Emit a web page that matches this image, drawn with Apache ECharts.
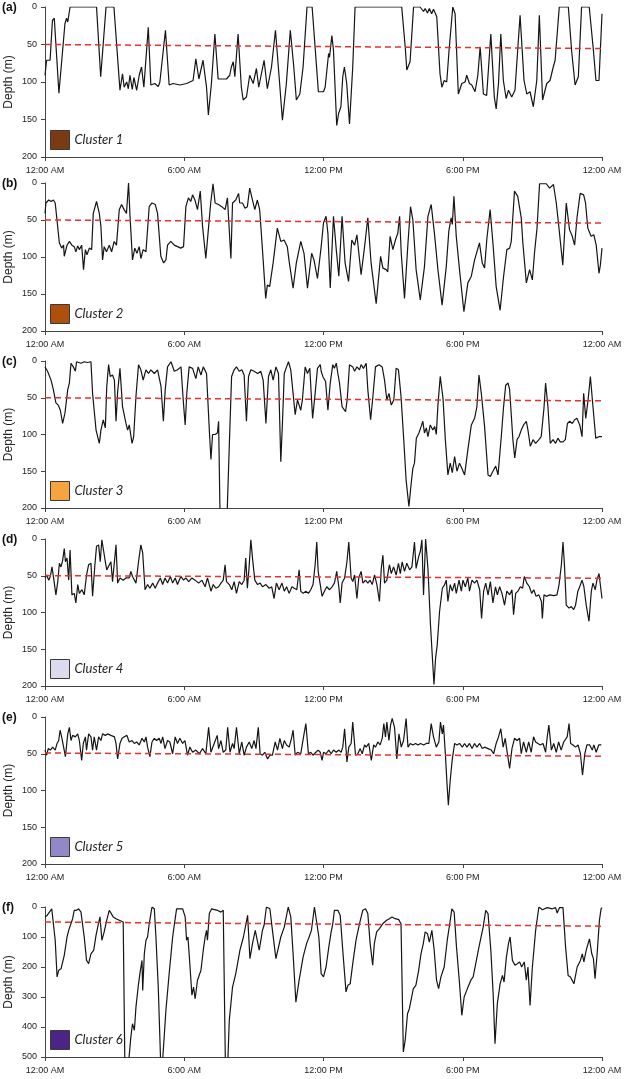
<!DOCTYPE html>
<html>
<head>
<meta charset="utf-8">
<script src="https://cdn.jsdelivr.net/npm/echarts@6/dist/echarts.min.js"></script>
<style>
  html, body { margin: 0; padding: 0; background: #fff; }
  #chart { width: 625px; height: 1079px; }
</style>
</head>
<body>
<div id="chart"></div>
<script>
// dive traces: [hour since midnight, depth (m)]
const cluster1 = [[0,91],[0.07,71],[0.22,71],[0.32,18],[0.40,15],[0.60,115],[0.86,22],[0.93,15],[0.98,20],[1.08,0],[2.22,0],[2.40,93],[2.44,95],[2.63,0],[2.97,0],[3.23,111],[3.34,89],[3.41,107],[3.52,100],[3.59,109],[3.66,91],[3.76,110],[3.83,94],[3.95,111],[4.06,91],[4.16,80],[4.26,107],[4.45,27],[4.56,104],[4.73,102],[4.88,106],[4.95,100],[5.19,31],[5.35,104],[5.52,102],[5.81,104],[6.10,102],[6.38,98],[6.50,69],[6.63,96],[6.81,71],[6.96,107],[7.04,144],[7.17,102],[7.32,36],[7.46,96],[7.82,96],[7.96,91],[8.03,80],[8.11,73],[8.18,93],[8.32,36],[8.46,107],[8.54,124],[8.68,120],[8.82,91],[8.97,102],[9.11,82],[9.21,107],[9.44,71],[9.58,109],[9.76,80],[9.93,31],[10.11,102],[10.23,151],[10.40,102],[10.57,31],[10.72,80],[10.83,124],[10.98,116],[11.12,80],[11.29,0],[11.51,0],[11.78,113],[12.00,113],[12.07,107],[12.22,62],[12.26,67],[12.36,38],[12.43,58],[12.57,158],[12.65,142],[12.75,133],[12.83,93],[12.90,80],[13.00,102],[13.12,156],[13.26,80],[13.36,0],[15.37,0],[15.52,53],[15.59,84],[15.73,73],[15.88,0],[16.16,0],[16.31,6],[16.38,2],[16.48,8],[16.56,2],[16.66,9],[16.74,3],[16.81,4],[16.88,13],[17.02,89],[17.10,107],[17.20,98],[17.31,100],[17.41,58],[17.57,0],[17.67,9],[17.81,116],[17.96,102],[18.10,100],[18.17,91],[18.29,102],[18.39,104],[18.53,113],[18.65,91],[18.75,53],[18.89,116],[19.03,118],[19.21,36],[19.36,120],[19.44,136],[19.54,102],[19.64,36],[19.75,98],[19.87,122],[19.97,111],[20.11,120],[20.25,111],[20.47,11],[20.64,98],[20.76,116],[20.90,113],[21.04,133],[21.19,98],[21.30,11],[21.44,124],[21.62,102],[21.76,98],[21.90,80],[21.98,71],[22.16,0],[22.55,0],[22.69,58],[22.84,104],[22.98,93],[23.12,0],[23.45,0],[23.63,58],[23.74,98],[23.81,96],[23.87,98],[24.00,9]];

const cluster2 = [[0,41],[0.04,27],[0.16,23],[0.26,25],[0.36,23],[0.44,27],[0.62,81],[0.72,88],[0.80,84],[0.83,99],[0.95,84],[1.05,79],[1.16,84],[1.26,86],[1.33,93],[1.41,85],[1.48,90],[1.58,84],[1.66,117],[1.74,90],[1.81,97],[1.91,88],[2.01,90],[2.08,41],[2.22,25],[2.34,41],[2.41,59],[2.48,104],[2.55,86],[2.65,93],[2.77,84],[2.87,93],[2.98,79],[3.08,84],[3.20,36],[3.30,29],[3.41,36],[3.51,41],[3.60,0],[3.66,43],[3.77,104],[3.87,88],[3.96,95],[4.06,86],[4.13,102],[4.23,90],[4.35,93],[4.49,32],[4.61,27],[4.75,29],[4.85,41],[4.99,99],[5.11,108],[5.21,104],[5.28,84],[5.42,79],[5.57,84],[5.71,86],[5.85,88],[5.97,86],[6.07,32],[6.18,20],[6.28,25],[6.36,16],[6.46,23],[6.57,36],[6.69,11],[6.79,59],[6.93,102],[7.05,59],[7.14,27],[7.24,1],[7.33,27],[7.47,29],[7.62,32],[7.76,36],[7.86,20],[8.01,102],[8.08,27],[8.22,23],[8.34,14],[8.39,27],[8.51,27],[8.62,34],[8.72,32],[8.82,7],[8.94,23],[9.04,36],[9.15,23],[9.25,36],[9.37,90],[9.51,156],[9.58,138],[9.68,140],[9.83,108],[10.01,61],[10.16,79],[10.30,77],[10.44,86],[10.52,106],[10.69,142],[10.83,108],[11.02,79],[11.16,95],[11.31,142],[11.49,95],[11.59,104],[11.74,129],[11.90,86],[12.00,54],[12.11,45],[12.19,68],[12.29,142],[12.43,45],[12.55,90],[12.66,126],[12.80,45],[12.93,108],[13.08,133],[13.22,77],[13.34,84],[13.44,70],[13.62,124],[13.77,86],[13.91,47],[14.05,108],[14.27,163],[14.46,99],[14.56,115],[14.70,117],[14.77,120],[14.87,72],[14.99,90],[15.10,77],[15.20,68],[15.28,45],[15.35,95],[15.49,156],[15.64,81],[15.75,32],[15.85,50],[15.99,117],[16.17,158],[16.35,113],[16.50,45],[16.64,29],[16.78,68],[16.93,117],[17.11,165],[17.29,113],[17.40,65],[17.50,47],[17.55,56],[17.62,18],[17.72,72],[17.86,117],[18.05,174],[18.22,135],[18.37,126],[18.51,104],[18.61,93],[18.72,81],[18.84,108],[18.94,115],[19.04,75],[19.18,36],[19.30,81],[19.44,140],[19.61,172],[19.76,126],[19.90,90],[20.02,88],[20.09,79],[20.23,11],[20.37,18],[20.52,47],[20.59,81],[20.74,135],[20.88,117],[21.00,131],[21.09,95],[21.20,61],[21.31,1],[21.60,1],[21.74,7],[21.91,2],[22.03,27],[22.14,59],[22.31,111],[22.46,27],[22.60,63],[22.72,72],[22.82,84],[22.93,45],[23.06,14],[23.21,16],[23.29,27],[23.39,61],[23.53,72],[23.65,70],[23.75,84],[23.87,122],[23.93,111],[24.00,88]];

const cluster3 = [[0,8],[0.11,14],[0.26,26],[0.36,39],[0.47,57],[0.57,60],[0.66,67],[0.76,85],[0.86,71],[0.98,39],[1.05,30],[1.12,3],[1.22,8],[1.31,14],[1.36,1],[1.55,3],[1.69,1],[1.84,2],[1.98,1],[2.05,44],[2.20,94],[2.34,112],[2.41,94],[2.51,80],[2.60,91],[2.66,35],[2.74,5],[2.81,21],[2.91,19],[2.99,26],[3.06,82],[3.13,42],[3.23,10],[3.34,62],[3.49,85],[3.56,94],[3.63,87],[3.75,112],[3.82,103],[3.92,48],[4.03,5],[4.13,12],[4.23,26],[4.35,12],[4.46,17],[4.56,12],[4.71,17],[4.85,12],[5.00,35],[5.10,82],[5.18,39],[5.28,8],[5.43,1],[5.57,14],[5.71,12],[5.86,8],[5.96,55],[6.04,87],[6.11,44],[6.21,8],[6.36,10],[6.50,24],[6.60,8],[6.72,19],[6.82,8],[6.96,17],[7.08,94],[7.15,134],[7.22,100],[7.33,100],[7.43,98],[7.48,82],[7.54,205],[7.70,250],[7.85,205],[7.94,116],[8.04,21],[8.15,12],[8.25,8],[8.37,14],[8.48,12],[8.58,19],[8.68,82],[8.77,21],[8.87,12],[9.01,14],[9.16,17],[9.30,14],[9.40,26],[9.52,85],[9.63,21],[9.73,12],[9.83,26],[9.95,8],[10.06,17],[10.16,137],[10.23,85],[10.31,17],[10.41,8],[10.49,1],[10.59,12],[10.66,10],[10.78,73],[10.88,53],[10.95,60],[11.02,67],[11.09,53],[11.21,8],[11.31,17],[11.41,10],[11.53,78],[11.64,44],[11.74,10],[11.86,5],[11.90,14],[11.97,21],[12.09,28],[12.19,67],[12.29,30],[12.40,5],[12.47,10],[12.55,3],[12.62,17],[12.69,30],[12.80,62],[12.95,69],[13.02,53],[13.12,5],[13.26,8],[13.34,14],[13.44,8],[13.55,12],[13.62,5],[13.72,10],[13.84,3],[13.91,39],[14.03,80],[14.13,48],[14.24,8],[14.39,5],[14.53,8],[14.63,26],[14.73,53],[14.82,44],[14.92,60],[15.03,53],[15.13,10],[15.23,12],[15.34,48],[15.45,103],[15.56,162],[15.68,198],[15.78,166],[15.85,146],[15.92,139],[16.00,105],[16.11,98],[16.21,89],[16.28,82],[16.35,98],[16.43,91],[16.50,103],[16.60,87],[16.71,94],[16.79,89],[16.86,100],[16.93,60],[17.03,21],[17.15,51],[17.25,107],[17.36,155],[17.46,139],[17.55,152],[17.65,130],[17.75,150],[17.86,139],[17.96,146],[18.08,155],[18.22,121],[18.37,87],[18.51,78],[18.61,62],[18.70,19],[18.80,44],[18.94,89],[19.09,155],[19.19,157],[19.30,150],[19.42,143],[19.52,155],[19.66,103],[19.76,62],[19.85,33],[19.95,30],[20.02,39],[20.16,107],[20.24,132],[20.34,107],[20.42,103],[20.52,94],[20.62,87],[20.74,82],[20.81,94],[20.91,116],[21.03,107],[21.14,112],[21.28,107],[21.38,103],[21.50,64],[21.57,30],[21.67,62],[21.77,112],[21.89,107],[22.00,112],[22.10,105],[22.20,110],[22.32,110],[22.42,107],[22.51,85],[22.61,82],[22.72,85],[22.82,80],[22.92,78],[23.04,87],[23.14,103],[23.21,44],[23.30,78],[23.40,53],[23.50,21],[23.61,62],[23.73,105],[23.86,103],[24.00,103]];

const cluster4 = [[0,53],[0.07,49],[0.16,56],[0.23,51],[0.30,38],[0.37,53],[0.47,76],[0.55,58],[0.62,33],[0.69,38],[0.76,29],[0.83,13],[0.88,31],[0.95,26],[1.02,56],[1.08,15],[1.16,76],[1.26,74],[1.33,87],[1.41,62],[1.48,74],[1.59,69],[1.69,76],[1.79,49],[1.88,35],[1.98,33],[2.05,78],[2.15,35],[2.22,10],[2.31,8],[2.38,31],[2.45,1],[2.53,17],[2.60,31],[2.66,42],[2.74,44],[2.84,31],[2.91,58],[2.99,56],[3.06,8],[3.13,60],[3.23,53],[3.37,56],[3.49,53],[3.63,53],[3.70,44],[3.77,51],[3.92,60],[4.03,31],[4.13,8],[4.21,19],[4.31,69],[4.42,62],[4.52,67],[4.64,60],[4.75,67],[4.85,60],[4.97,53],[5.07,62],[5.17,53],[5.28,60],[5.40,51],[5.50,60],[5.61,53],[5.71,62],[5.85,51],[5.97,56],[6.07,53],[6.19,58],[6.33,53],[6.47,56],[6.62,60],[6.76,56],[6.90,65],[7.00,53],[7.15,71],[7.25,62],[7.36,67],[7.48,65],[7.58,60],[7.68,56],[7.76,35],[7.82,58],[7.94,62],[8.05,69],[8.15,58],[8.25,74],[8.37,58],[8.48,62],[8.58,56],[8.65,26],[8.72,67],[8.79,40],[8.87,1],[8.94,26],[9.04,56],[9.16,62],[9.27,60],[9.37,65],[9.52,62],[9.66,67],[9.77,65],[9.87,81],[9.97,60],[10.09,69],[10.21,60],[10.31,71],[10.41,65],[10.52,74],[10.64,65],[10.74,67],[10.85,69],[10.95,42],[11.02,71],[11.12,74],[11.24,71],[11.35,74],[11.45,69],[11.55,62],[11.64,35],[11.71,4],[11.77,44],[11.94,78],[12.04,71],[12.14,65],[12.26,69],[12.37,65],[12.47,60],[12.57,44],[12.66,65],[12.72,87],[12.80,60],[12.91,53],[13.01,31],[13.09,4],[13.19,53],[13.26,58],[13.34,49],[13.44,81],[13.52,53],[13.62,44],[13.70,60],[13.81,56],[13.91,60],[14.01,56],[14.10,62],[14.20,49],[14.30,62],[14.41,85],[14.49,40],[14.56,22],[14.63,60],[14.73,56],[14.84,35],[14.92,47],[15.02,38],[15.13,49],[15.23,33],[15.31,47],[15.39,31],[15.49,44],[15.59,33],[15.71,42],[15.81,38],[15.92,4],[15.99,40],[16.10,24],[16.17,17],[16.24,1],[16.31,76],[16.40,0],[16.50,40],[16.61,117],[16.71,171],[16.76,198],[16.83,162],[16.90,144],[17.00,99],[17.12,67],[17.22,62],[17.29,56],[17.36,85],[17.46,62],[17.55,71],[17.65,60],[17.72,74],[17.84,56],[17.94,71],[18.01,56],[18.11,65],[18.22,53],[18.29,71],[18.40,56],[18.51,60],[18.61,56],[18.73,69],[18.81,108],[18.90,71],[18.99,60],[19.09,76],[19.19,58],[19.30,87],[19.41,65],[19.49,76],[19.59,65],[19.69,74],[19.80,90],[19.90,71],[20.02,76],[20.12,69],[20.19,103],[20.28,74],[20.38,71],[20.48,65],[20.58,67],[20.65,51],[20.76,60],[20.87,65],[20.97,74],[21.06,69],[21.16,78],[21.28,76],[21.39,85],[21.43,108],[21.50,76],[21.60,78],[21.75,76],[21.92,77],[22.06,76],[22.15,62],[22.25,35],[22.32,4],[22.39,40],[22.46,90],[22.58,94],[22.68,92],[22.78,96],[22.86,90],[22.96,71],[23.04,65],[23.14,56],[23.22,65],[23.32,90],[23.44,112],[23.54,71],[23.61,60],[23.71,69],[23.78,56],[23.87,47],[23.94,49],[24.00,81]];

const cluster5 = [[0,45],[0.07,52],[0.14,43],[0.23,45],[0.33,41],[0.44,45],[0.52,36],[0.59,32],[0.65,18],[0.73,29],[0.80,27],[0.88,54],[0.98,23],[1.05,14],[1.12,32],[1.19,25],[1.31,27],[1.41,23],[1.48,32],[1.58,59],[1.65,36],[1.74,27],[1.79,45],[1.88,23],[1.98,27],[2.05,45],[2.12,27],[2.22,45],[2.31,27],[2.41,32],[2.48,23],[2.60,25],[2.70,23],[2.84,25],[2.99,27],[3.06,36],[3.13,57],[3.23,36],[3.32,29],[3.42,27],[3.53,25],[3.63,34],[3.75,32],[3.85,36],[3.95,34],[4.06,38],[4.18,29],[4.28,34],[4.35,27],[4.42,41],[4.52,54],[4.61,34],[4.71,29],[4.81,32],[4.92,29],[5.00,36],[5.07,27],[5.17,43],[5.28,32],[5.38,34],[5.50,50],[5.61,27],[5.71,36],[5.81,29],[5.93,36],[6.03,32],[6.14,52],[6.24,41],[6.36,48],[6.50,45],[6.65,50],[6.79,43],[6.93,50],[7.05,14],[7.15,48],[7.29,36],[7.42,25],[7.48,43],[7.58,32],[7.68,48],[7.79,45],[7.87,14],[7.97,48],[8.08,36],[8.15,43],[8.25,14],[8.37,50],[8.48,34],[8.58,52],[8.68,41],[8.80,34],[8.91,43],[9.01,32],[9.09,43],[9.19,14],[9.27,50],[9.37,52],[9.47,48],[9.59,57],[9.69,52],[9.80,52],[9.92,34],[10.02,45],[10.12,29],[10.23,43],[10.31,32],[10.41,38],[10.52,41],[10.62,29],[10.69,18],[10.78,52],[10.88,48],[11.02,50],[11.14,27],[11.24,9],[11.35,50],[11.45,48],[11.55,52],[11.67,48],[11.77,45],[11.86,48],[11.94,59],[12.00,48],[12.11,50],[12.23,45],[12.33,50],[12.43,45],[12.55,48],[12.66,45],[12.76,48],[12.83,41],[12.91,16],[13.01,61],[13.09,41],[13.19,36],[13.26,7],[13.38,52],[13.48,50],[13.58,43],[13.67,50],[13.77,38],[13.84,41],[13.95,36],[14.06,59],[14.16,38],[14.24,41],[14.34,34],[14.44,38],[14.53,29],[14.60,9],[14.67,27],[14.73,7],[14.82,32],[14.89,11],[14.96,2],[15.06,14],[15.16,57],[15.25,23],[15.35,41],[15.45,32],[15.56,2],[15.64,41],[15.74,36],[15.85,38],[15.97,36],[16.07,38],[16.18,36],[16.31,38],[16.43,36],[16.54,36],[16.64,9],[16.74,27],[16.86,41],[16.97,34],[17.04,7],[17.12,23],[17.17,11],[17.25,50],[17.32,90],[17.38,120],[17.46,86],[17.55,57],[17.65,36],[17.75,38],[17.86,36],[17.98,41],[18.08,36],[18.18,41],[18.29,36],[18.40,43],[18.51,36],[18.61,41],[18.73,36],[18.84,43],[18.94,41],[19.09,43],[19.23,45],[19.33,50],[19.44,36],[19.54,27],[19.64,16],[19.74,41],[19.83,29],[19.90,45],[20.02,70],[20.12,43],[20.23,29],[20.34,32],[20.45,29],[20.52,50],[20.62,34],[20.74,48],[20.84,34],[20.95,48],[21.05,27],[21.14,34],[21.24,36],[21.34,38],[21.46,36],[21.57,48],[21.64,27],[21.71,11],[21.82,45],[21.92,36],[22.03,48],[22.13,34],[22.24,45],[22.35,34],[22.43,36],[22.50,27],[22.58,9],[22.65,36],[22.75,38],[22.86,41],[22.97,38],[23.07,50],[23.16,79],[23.26,50],[23.35,38],[23.47,38],[23.58,45],[23.65,38],[23.75,48],[23.86,38],[23.97,38]];

const cluster6 = [[0,33],[0.09,28],[0.19,17],[0.29,6],[0.36,9],[0.44,111],[0.52,233],[0.59,211],[0.69,206],[0.83,161],[0.95,100],[1.02,78],[1.09,83],[1.19,39],[1.26,11],[1.36,11],[1.45,6],[1.55,17],[1.62,11],[1.69,100],[1.79,178],[1.88,189],[1.98,156],[2.10,144],[2.20,94],[2.30,56],[2.37,33],[2.45,111],[2.55,83],[2.66,44],[2.77,11],[2.84,6],[2.94,33],[3.06,39],[3.20,44],[3.37,50],[3.44,520],[3.60,520],[3.70,433],[3.77,389],[3.85,411],[3.92,333],[4.03,256],[4.11,211],[4.18,178],[4.21,278],[4.28,156],[4.35,111],[4.42,100],[4.49,56],[4.61,0],[4.71,6],[4.78,100],[4.88,267],[4.98,510],[5.07,510],[5.21,344],[5.35,222],[5.50,100],[5.60,44],[5.67,6],[5.93,6],[6.04,33],[6.10,111],[6.16,100],[6.24,189],[6.33,294],[6.40,267],[6.47,306],[6.57,244],[6.72,211],[6.82,144],[6.90,100],[6.96,78],[7.00,111],[7.08,22],[7.18,6],[7.43,11],[7.58,17],[7.68,11],[7.77,510],[7.88,510],[7.94,378],[8.08,267],[8.22,222],[8.40,144],[8.55,100],[8.66,56],[8.73,28],[8.83,172],[8.94,122],[9.06,78],[9.23,144],[9.37,78],[9.44,61],[9.54,0],[9.69,6],[9.80,78],[9.95,172],[10.02,167],[10.16,100],[10.31,67],[10.48,0],[10.59,33],[10.69,156],[10.81,317],[10.95,244],[11.12,167],[11.27,122],[11.38,100],[11.48,78],[11.61,0],[11.68,6],[11.80,100],[11.90,222],[12.00,233],[12.11,200],[12.23,133],[12.33,83],[12.40,56],[12.47,11],[12.62,11],[12.72,28],[12.83,144],[12.97,283],[13.05,261],[13.15,256],[13.26,189],[13.40,111],[13.55,56],[13.69,11],[13.81,6],[13.91,22],[14.01,122],[14.12,194],[14.19,122],[14.29,83],[14.41,72],[14.55,56],[14.72,44],[14.84,39],[14.95,33],[15.09,39],[15.24,42],[15.34,56],[15.44,483],[15.52,444],[15.62,356],[15.70,339],[15.77,344],[15.87,272],[15.98,261],[16.10,211],[16.20,156],[16.30,122],[16.38,83],[16.48,89],[16.56,117],[16.67,78],[16.77,144],[16.87,244],[16.96,272],[17.06,233],[17.20,200],[17.34,106],[17.44,56],[17.53,6],[17.63,17],[17.73,133],[17.85,244],[17.96,361],[18.06,300],[18.20,272],[18.35,244],[18.45,233],[18.56,189],[18.70,133],[18.88,67],[18.99,11],[19.09,22],[19.21,144],[19.31,289],[19.39,456],[19.49,322],[19.61,256],[19.71,228],[19.78,250],[19.88,167],[19.97,122],[20.04,100],[20.14,178],[20.25,194],[20.35,189],[20.45,183],[20.54,200],[20.65,183],[20.74,244],[20.81,200],[20.90,328],[21.00,200],[21.14,78],[21.28,0],[21.43,9],[21.64,2],[21.86,6],[22.00,2],[22.07,20],[22.17,2],[22.32,2],[22.43,133],[22.54,228],[22.64,233],[22.79,256],[22.93,200],[23.07,178],[23.15,156],[23.22,183],[23.32,144],[23.46,106],[23.56,156],[23.63,172],[23.70,239],[23.79,156],[23.89,44],[23.96,6],[24.00,2]];

const clusters = [cluster1, cluster2, cluster3, cluster4, cluster5, cluster6];
const clusterNames = ['Cluster 1', 'Cluster 2', 'Cluster 3', 'Cluster 4', 'Cluster 5', 'Cluster 6'];
const clusterColors = ['#7b3a12', '#ae500c', '#f5a440', '#dcdaee', '#9388c6', '#4b2485'];
const panelLabels = ['(a)', '(b)', '(c)', '(d)', '(e)', '(f)'];
const timeLabels = ['12:00 AM', '6:00 AM', '12:00 PM', '6:00 PM', '12:00 AM'];
const depthMax = [200, 200, 200, 200, 200, 500];
const depthStep = [50, 50, 50, 50, 50, 100];
// red dashed trend: depth at start, depth at end, end hour (runs a little past midnight)
const trendStart = [50, 50, 50, 49.8, 49, 50];
const trendEnd = [55.5, 54.2, 54.3, 53.4, 53.4, 64];
const trendEndHour = [24.27, 24.3, 24.4, 24.35, 24.33, 24.36];

const gridTops = [7, 183, 361, 539, 717, 907];
const gridHeights = [150, 148, 147, 147, 147, 150];

const axisColor = '#444';
const textColor = '#222';

const grid = [], xAxis = [], yAxis = [], series = [], legend = [], title = [];

clusters.forEach((data, i) => {
  grid.push({
    left: 45, right: 23, top: gridTops[i], height: gridHeights[i],
    containLabel: false, outerBoundsMode: 'none'
  });

  xAxis.push({
    gridIndex: i,
    type: 'value',
    min: 0,
    max: 24,
    interval: 6,
    position: 'bottom',
    axisLine: { onZero: false, lineStyle: { color: axisColor, width: 1 } },
    axisTick: { length: 4, lineStyle: { color: axisColor } },
    axisLabel: {
      margin: 9,
      fontSize: 9,
      color: textColor,
      fontFamily: 'Liberation Sans, Arial, sans-serif',
      formatter: v => timeLabels[v / 6]
    },
    splitLine: { show: false }
  });

  yAxis.push({
    gridIndex: i,
    type: 'value',
    inverse: true,
    min: 0,
    max: depthMax[i],
    interval: depthStep[i],
    name: 'Depth (m)',
    nameLocation: 'middle',
    nameGap: 30,
    nameMoveOverlap: false,
    nameTextStyle: { fontSize: 12, color: textColor, fontFamily: 'Liberation Sans, Arial, sans-serif' },
    axisLine: { show: true, lineStyle: { color: axisColor, width: 1 } },
    axisTick: { show: true, length: 4, lineStyle: { color: axisColor } },
    axisLabel: {
      margin: 8,
      fontSize: 9,
      color: textColor,
      fontFamily: 'Liberation Sans, Arial, sans-serif'
    },
    splitLine: { show: false }
  });

  series.push({
    name: clusterNames[i],
    type: 'line',
    xAxisIndex: i,
    yAxisIndex: i,
    data: data,
    symbol: 'none',
    smooth: false,
    lineStyle: { color: '#151515', width: 1.2 },
    silent: true,
    animation: false
  });

  series.push({
    name: 'trend' + i,
    type: 'line',
    xAxisIndex: i,
    yAxisIndex: i,
    data: [[0, trendStart[i]], [trendEndHour[i], trendEnd[i]]],
    symbol: 'none',
    clip: false,
    lineStyle: { color: '#e8302c', width: 1.5, type: [6, 4] },
    silent: true,
    animation: false,
    z: 3
  });

  legend.push({
    left: 50,
    top: gridTops[i] + gridHeights[i] - 27,
    padding: 0,
    selectedMode: false,
    icon: 'rect',
    itemWidth: 19,
    itemHeight: 19,
    textStyle: { fontSize: 13, fontStyle: 'italic', color: textColor, fontFamily: 'Lato, sans-serif' },
    data: [{
      name: clusterNames[i],
      itemStyle: { color: clusterColors[i], borderColor: '#3a3a3a', borderWidth: 1 }
    }]
  });

  title.push({
    text: panelLabels[i],
    left: 2,
    top: gridTops[i] - 5,
    padding: 0,
    textStyle: { fontSize: 12, fontWeight: 'bold', color: '#111', fontFamily: 'Liberation Sans, Arial, sans-serif' }
  });
});

const chart = echarts.init(document.getElementById('chart'), null, { renderer: 'canvas' });
chart.setOption({
  animation: false,
  backgroundColor: '#fff',
  title: title,
  legend: legend,
  grid: grid,
  xAxis: xAxis,
  yAxis: yAxis,
  series: series
});
</script>
</body>
</html>
